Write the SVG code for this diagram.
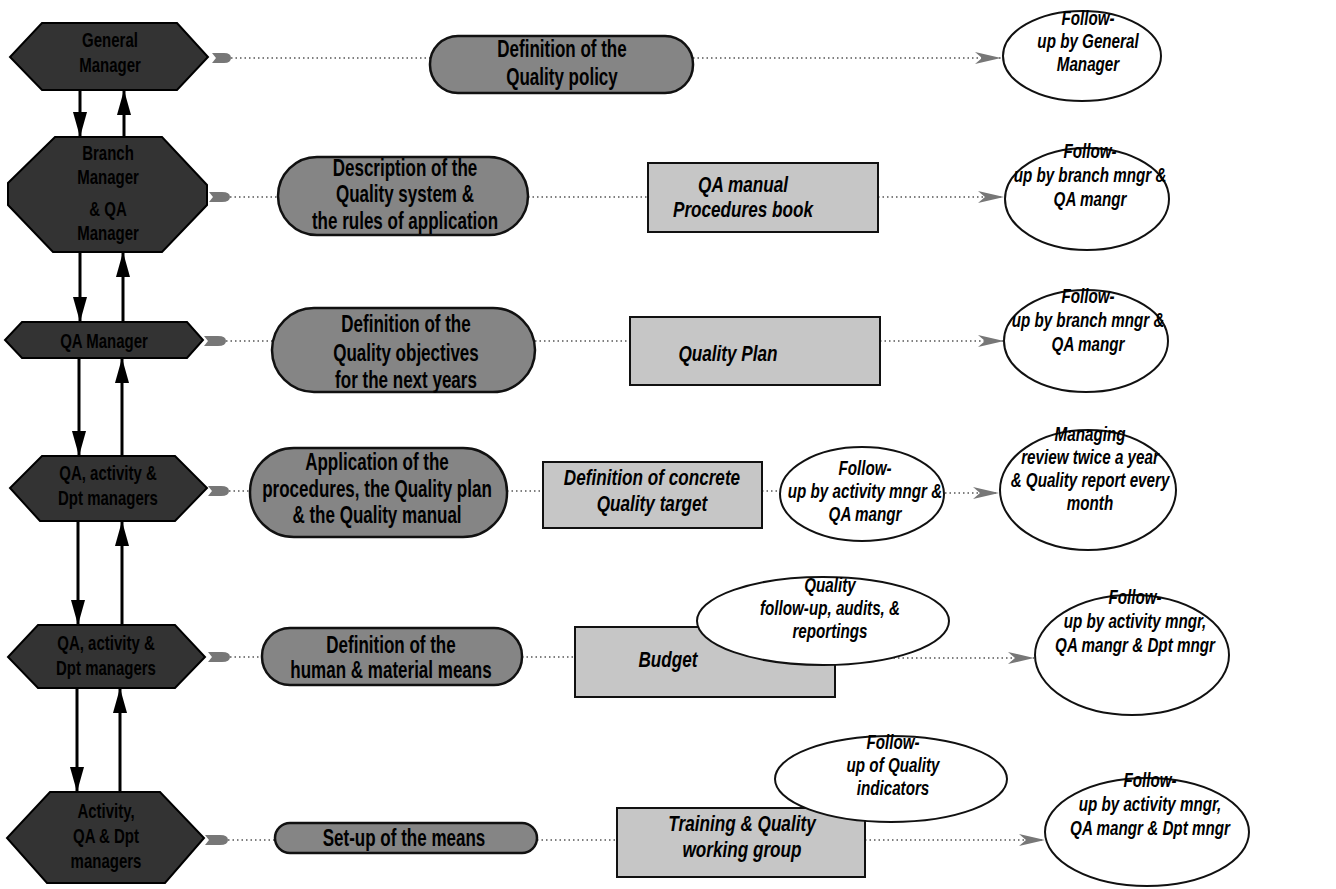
<svg xmlns="http://www.w3.org/2000/svg" width="1336" height="889" viewBox="0 0 1336 889">
<style>
.hex{fill:#333;stroke:#000;stroke-width:2}
.pill{fill:#858585;stroke:#111;stroke-width:2.5}
.box{fill:#c6c6c6;stroke:#111;stroke-width:2}
.oval{fill:#fff;stroke:#111;stroke-width:2}
.ht{font-family:"Liberation Sans",Arial,sans-serif;font-weight:bold;font-size:20px;fill:#000;text-anchor:middle}
.pt{font-family:"Liberation Sans",Arial,sans-serif;font-weight:bold;font-size:23px;fill:#000;text-anchor:middle}
.bt{font-family:"Liberation Sans",Arial,sans-serif;font-weight:bold;font-style:italic;font-size:22px;fill:#000;text-anchor:middle}
.et{font-family:"Liberation Sans",Arial,sans-serif;font-weight:bold;font-style:italic;font-size:20px;fill:#000;text-anchor:middle}
.flow{stroke:#000;stroke-width:3;fill:none;marker-end:url(#vh)}
.dot{stroke:#555;stroke-width:1.6;stroke-dasharray:1.5 3;fill:none}
.darr{marker-end:url(#dart)}
.tail{fill:#777;stroke:none}
</style>
<defs>
<marker id="vh" viewBox="0 0 25 14" refX="25" refY="7" markerWidth="25" markerHeight="14" markerUnits="userSpaceOnUse" orient="auto">
<path d="M0,0 L25,7 L0,14 Z" fill="#000"/>
</marker>
<marker id="dart" viewBox="0 0 26 12" refX="26" refY="6" markerWidth="26" markerHeight="12" markerUnits="userSpaceOnUse" orient="auto">
<path d="M0,0 L26,6 L0,12 L7,6 Z" fill="#777"/>
</marker>
</defs>
<rect width="1336" height="889" fill="#fff"/>

<g id="connectors">
<line class="flow" x1="80" y1="90" x2="80" y2="137"/>
<line class="flow" x1="124" y1="137" x2="124" y2="90"/>
<line class="flow" x1="80" y1="252" x2="80" y2="322"/>
<line class="flow" x1="123" y1="322" x2="123" y2="252"/>
<line class="flow" x1="79" y1="358" x2="79" y2="456"/>
<line class="flow" x1="122" y1="456" x2="122" y2="358"/>
<line class="flow" x1="78" y1="521" x2="78" y2="625"/>
<line class="flow" x1="122" y1="625" x2="122" y2="521"/>
<line class="flow" x1="77" y1="688" x2="77" y2="792"/>
<line class="flow" x1="120" y1="792" x2="120" y2="688"/>
<path class="tail" d="M212,53 L224,53 Q231,53 231,58 Q231,63 224,63 L212,63 L216,58 Z"/>
<path class="tail" d="M209,192 L222,192 Q230,192 230,197 Q230,202 222,202 L209,202 L213,197 Z"/>
<path class="tail" d="M204,336 L218,336 Q226,336 226,341 Q226,346 218,346 L204,346 L208,341 Z"/>
<path class="tail" d="M208,486 L221,486 Q229,486 229,491 Q229,496 221,496 L208,496 L212,491 Z"/>
<path class="tail" d="M208,652 L222,652 Q230,652 230,657 Q230,662 222,662 L208,662 L212,657 Z"/>
<path class="tail" d="M205,835 L220,835 Q228,835 228,840 Q228,845 220,845 L205,845 L209,840 Z"/>
<line class="dot" x1="231" y1="58" x2="430" y2="58"/>
<line class="dot darr" x1="693" y1="58" x2="1001" y2="58"/>
<line class="dot" x1="230" y1="197" x2="278" y2="197"/>
<line class="dot" x1="528" y1="197" x2="648" y2="197"/>
<line class="dot darr" x1="878" y1="197" x2="1004" y2="197"/>
<line class="dot" x1="226" y1="341" x2="272" y2="341"/>
<line class="dot" x1="535" y1="341" x2="630" y2="341"/>
<line class="dot darr" x1="880" y1="341" x2="1004" y2="341"/>
<line class="dot" x1="229" y1="491" x2="250" y2="491"/>
<line class="dot" x1="507" y1="491" x2="543" y2="491"/>
<line class="dot" x1="762" y1="491" x2="780" y2="491"/>
<line class="dot darr" x1="945" y1="493" x2="999" y2="493"/>
<line class="dot" x1="230" y1="657" x2="262" y2="657"/>
<line class="dot" x1="522" y1="657" x2="575" y2="657"/>
<line class="dot darr" x1="835" y1="658" x2="1034" y2="658"/>
<line class="dot" x1="228" y1="840" x2="275" y2="840"/>
<line class="dot" x1="537" y1="840" x2="617" y2="840"/>
<line class="dot darr" x1="865" y1="840" x2="1045" y2="840"/>
</g>

<g id="h1">
<polygon class="hex" points="42,23 177,23 208,57 177,90 42,90 10,57"/>
<g transform="translate(110 0) scale(0.75 1)"><text class="ht" x="0" y="47">General</text><text class="ht" x="0" y="72">Manager</text></g>
</g>
<g id="h2">
<polygon class="hex" points="55,137 162,137 207,185 207,205 162,252 53,252 8,205 8,183"/>
<g transform="translate(108 0) scale(0.75 1)"><text class="ht" x="0" y="160">Branch</text><text class="ht" x="0" y="184">Manager</text><text class="ht" x="0" y="216">&amp; QA</text><text class="ht" x="0" y="240">Manager</text></g>
</g>
<g id="h3">
<polygon class="hex" points="22,322 187,322 203,340 187,358 22,358 5,340"/>
<g transform="translate(104 0) scale(0.75 1)"><text class="ht" x="0" y="348">QA Manager</text></g>
</g>
<g id="h4">
<polygon class="hex" points="42,456 175,456 207,488 175,521 40,521 10,488"/>
<g transform="translate(108 0) scale(0.75 1)"><text class="ht" x="0" y="480">QA, activity &amp;</text><text class="ht" x="0" y="505">Dpt managers</text></g>
</g>
<g id="h5">
<polygon class="hex" points="38,625 175,625 205,657 175,688 38,688 8,657"/>
<g transform="translate(106 0) scale(0.75 1)"><text class="ht" x="0" y="650">QA, activity &amp;</text><text class="ht" x="0" y="675">Dpt managers</text></g>
</g>
<g id="h6">
<polygon class="hex" points="50,792 160,792 204,838 165,883 47,883 7,838"/>
<g transform="translate(106 0) scale(0.75 1)"><text class="ht" x="0" y="818">Activity,</text><text class="ht" x="0" y="843">QA &amp; Dpt</text><text class="ht" x="0" y="868">managers</text></g>
</g>

<g id="p1">
<rect class="pill" x="430" y="36" width="263" height="57" rx="28"/>
<g transform="translate(562 0) scale(0.74 1)"><text class="pt" x="0" y="57">Definition of the</text><text class="pt" x="0" y="85">Quality policy</text></g>
</g>
<g id="p2">
<rect class="pill" x="278" y="157" width="250" height="78" rx="39"/>
<g transform="translate(405 0) scale(0.74 1)"><text class="pt" x="0" y="176">Description of the</text><text class="pt" x="0" y="202">Quality system &amp;</text><text class="pt" x="0" y="229">the rules of application</text></g>
</g>
<g id="p3">
<rect class="pill" x="272" y="308" width="263" height="84" rx="42"/>
<g transform="translate(406 0) scale(0.74 1)"><text class="pt" x="0" y="332">Definition of the</text><text class="pt" x="0" y="361">Quality objectives</text><text class="pt" x="0" y="388">for the next years</text></g>
</g>
<g id="p4">
<rect class="pill" x="250" y="448" width="257" height="89" rx="44"/>
<g transform="translate(377 0) scale(0.74 1)"><text class="pt" x="0" y="470">Application of the</text><text class="pt" x="0" y="497">procedures, the Quality plan</text><text class="pt" x="0" y="523">&amp; the Quality manual</text></g>
</g>
<g id="p5">
<rect class="pill" x="262" y="628" width="260" height="57" rx="28"/>
<g transform="translate(391 0) scale(0.74 1)"><text class="pt" x="0" y="653">Definition of the</text><text class="pt" x="0" y="678">human &amp; material means</text></g>
</g>
<g id="p6">
<rect class="pill" x="275" y="823" width="262" height="30" rx="15"/>
<g transform="translate(404 0) scale(0.74 1)"><text class="pt" x="0" y="846">Set-up of the means</text></g>
</g>

<g id="b2">
<rect class="box" x="648" y="163" width="230" height="69"/>
<g transform="translate(743 0) scale(0.78 1)"><text class="bt" x="0" y="192">QA manual</text><text class="bt" x="0" y="217">Procedures book</text></g>
</g>
<g id="b3">
<rect class="box" x="630" y="317" width="250" height="68"/>
<g transform="translate(728 0) scale(0.78 1)"><text class="bt" x="0" y="361">Quality Plan</text></g>
</g>
<g id="b4">
<rect class="box" x="543" y="462" width="219" height="66"/>
<g transform="translate(652 0) scale(0.78 1)"><text class="bt" x="0" y="485">Definition of concrete</text><text class="bt" x="0" y="511">Quality target</text></g>
</g>
<g id="b5">
<rect class="box" x="575" y="627" width="260" height="70"/>
<g transform="translate(668 0) scale(0.78 1)"><text class="bt" x="0" y="667">Budget</text></g>
</g>
<g id="b6">
<rect class="box" x="617" y="808" width="248" height="69"/>
<g transform="translate(742 0) scale(0.78 1)"><text class="bt" x="0" y="831">Training &amp; Quality</text><text class="bt" x="0" y="857">working group</text></g>
</g>

<g id="e1">
<ellipse class="oval" cx="1082" cy="56" rx="79" ry="45"/>
<g transform="translate(1088 0) scale(0.76 1)"><text class="et" x="0" y="25">Follow-</text><text class="et" x="0" y="48">up by General</text><text class="et" x="0" y="71">Manager</text></g>
</g>
<g id="e2">
<ellipse class="oval" cx="1087" cy="199" rx="82" ry="51"/>
<g transform="translate(1090 0) scale(0.76 1)"><text class="et" x="0" y="158">Follow-</text><text class="et" x="0" y="182">up by branch mngr &amp;</text><text class="et" x="0" y="206">QA mangr</text></g>
</g>
<g id="e3">
<ellipse class="oval" cx="1086" cy="341" rx="82" ry="51"/>
<g transform="translate(1088 0) scale(0.76 1)"><text class="et" x="0" y="303">Follow-</text><text class="et" x="0" y="327">up by branch mngr &amp;</text><text class="et" x="0" y="351">QA mangr</text></g>
</g>
<g id="e4a">
<ellipse class="oval" cx="862" cy="494" rx="82" ry="47"/>
<g transform="translate(865 0) scale(0.76 1)"><text class="et" x="0" y="475">Follow-</text><text class="et" x="0" y="498">up by activity mngr &amp;</text><text class="et" x="0" y="521">QA mangr</text></g>
</g>
<g id="e4b">
<ellipse class="oval" cx="1088" cy="490" rx="88" ry="60"/>
<g transform="translate(1090 0) scale(0.76 1)"><text class="et" x="0" y="441">Managing</text><text class="et" x="0" y="464">review twice a year</text><text class="et" x="0" y="487">&amp; Quality report every</text><text class="et" x="0" y="510">month</text></g>
</g>
<g id="e5a">
<ellipse class="oval" cx="823" cy="621" rx="126" ry="44"/>
<g transform="translate(830 0) scale(0.76 1)"><text class="et" x="0" y="592">Quality</text><text class="et" x="0" y="615">follow-up, audits, &amp;</text><text class="et" x="0" y="638">reportings</text></g>
</g>
<g id="e5b">
<ellipse class="oval" cx="1132" cy="655" rx="97" ry="60"/>
<g transform="translate(1135 0) scale(0.76 1)"><text class="et" x="0" y="604">Follow-</text><text class="et" x="0" y="628">up by activity mngr,</text><text class="et" x="0" y="652">QA mangr &amp; Dpt mngr</text></g>
</g>
<g id="e6a">
<ellipse class="oval" cx="891" cy="779" rx="116" ry="43"/>
<g transform="translate(893 0) scale(0.76 1)"><text class="et" x="0" y="749">Follow-</text><text class="et" x="0" y="772">up of Quality</text><text class="et" x="0" y="795">indicators</text></g>
</g>
<g id="e6b">
<ellipse class="oval" cx="1147" cy="832" rx="102" ry="54"/>
<g transform="translate(1150 0) scale(0.76 1)"><text class="et" x="0" y="787">Follow-</text><text class="et" x="0" y="811">up by activity mngr,</text><text class="et" x="0" y="835">QA mangr &amp; Dpt mngr</text></g>
</g>
</svg>
